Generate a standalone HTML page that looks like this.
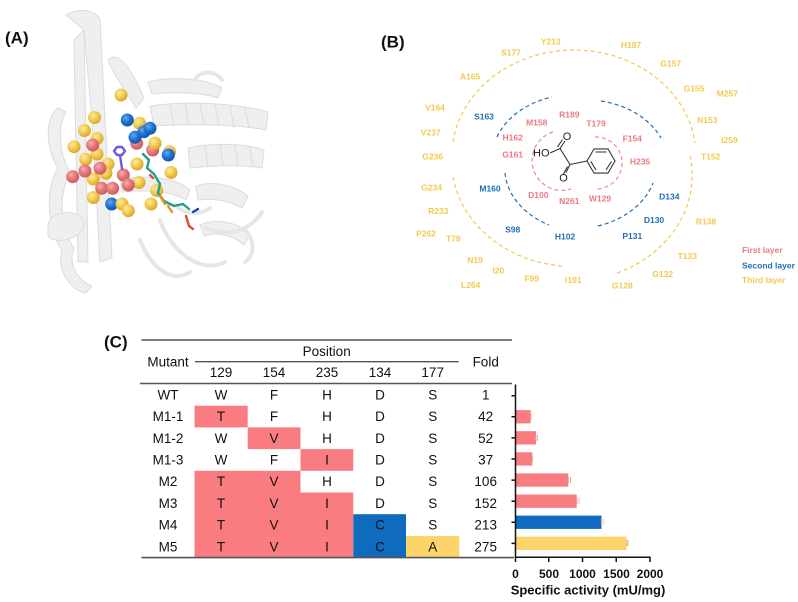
<!DOCTYPE html>
<html><head><meta charset="utf-8">
<style>
html,body{margin:0;padding:0;background:#fff;}
svg{display:block;}
text{font-family:"Liberation Sans",Arial,sans-serif;}
.lb{font-weight:bold;font-size:8.5px;text-anchor:middle;dominant-baseline:central;}
.r{fill:#ee7a80}.b{fill:#1f6db5}.y{fill:#f3c94e}
.tt{font-size:13.5px;fill:#111;text-anchor:middle;dominant-baseline:central;}
.pl{font-weight:bold;font-size:17px;fill:#111;dominant-baseline:central;}
</style></head>
<body>
<svg width="798" height="602" viewBox="0 0 798 602" xmlns="http://www.w3.org/2000/svg">
<defs>
<radialGradient id="gy" cx="0.38" cy="0.35" r="0.7"><stop offset="0" stop-color="#fbe9a8"/><stop offset="0.5" stop-color="#f3cb4c"/><stop offset="1" stop-color="#d4a22a"/></radialGradient>
<radialGradient id="gp" cx="0.38" cy="0.35" r="0.7"><stop offset="0" stop-color="#f6b0b1"/><stop offset="0.5" stop-color="#e67577"/><stop offset="1" stop-color="#c25a5d"/></radialGradient>
<radialGradient id="gb" cx="0.38" cy="0.35" r="0.7"><stop offset="0" stop-color="#6aa8ee"/><stop offset="0.5" stop-color="#1f72d4"/><stop offset="1" stop-color="#11529f"/></radialGradient>
</defs>

<!-- Panel labels -->
<text class="pl" x="5" y="38">(A)</text>
<text class="pl" x="381" y="42">(B)</text>
<text class="pl" x="104" y="342">(C)</text>

<!-- Panel A ribbon -->
<g fill="#efefef" stroke="#dcdcdc" stroke-width="1">
<path d="M66,15 C78,8 94,9 100,19 L112,258 L100,262 L92,120 L84,30 Z"/>
<path d="M84,30 L88,262 L78,262 L74,40 Z"/>
<path d="M58,108 C44,118 46,150 58,168 C44,190 48,232 62,250 C56,270 70,290 86,293 L92,286 C76,280 68,262 74,248 C60,228 58,196 70,172 C58,152 58,124 66,112 Z"/>
<path d="M48,225 C50,210 80,208 84,222 C86,238 56,246 48,236 Z"/>
<path d="M108,60 C116,52 128,60 144,98 L136,108 C124,88 112,72 108,60 Z"/>
<path d="M150,106 C190,100 240,104 268,112 L266,130 C236,124 190,124 154,126 Z"/>
<path d="M148,82 C170,76 205,78 222,88 L218,98 C200,92 172,92 152,94 Z"/>
<path d="M188,148 C215,142 248,144 264,150 L262,168 C240,164 212,166 190,168 Z"/>
<path d="M196,186 C214,180 236,186 248,196 L242,208 C228,200 212,198 198,200 Z"/>
<path d="M120,180 C140,175 175,176 190,190 L186,200 C170,190 142,190 122,192 Z"/>
<path d="M200,225 C215,218 240,222 250,235 L244,245 C232,234 215,232 204,236 Z"/>
</g>
<g fill="none" stroke="#e6e6e6" stroke-width="4" stroke-linecap="round">
<path d="M160,220 C170,250 200,275 225,262"/>
<path d="M205,228 C230,238 250,230 262,212"/>
<path d="M140,240 C150,265 170,285 190,272"/>
<path d="M195,80 C200,70 215,70 222,80"/>
<path d="M245,230 C255,240 255,255 245,262"/>
<path d="M175,205 C185,215 200,215 210,208"/>
</g>
<g fill="none" stroke="#dcdcdc" stroke-width="1">
<path d="M170,104 l4,22 M185,103 l4,22 M200,103 l4,22 M215,104 l4,22 M230,106 l4,22 M245,108 l4,20"/>
<path d="M205,146 l3,21 M220,145 l3,21 M235,145 l3,21 M250,147 l3,20"/>
</g>

<!-- spheres -->
<g stroke="none">
<g fill="url(#gy)">
<circle cx="121" cy="95" r="6.5"/><circle cx="94.5" cy="117.5" r="6.5"/><circle cx="84.5" cy="130.5" r="6.5"/>
<circle cx="97" cy="138.5" r="6.5"/><circle cx="74" cy="146.7" r="6.5"/><circle cx="97" cy="154" r="6.5"/>
<circle cx="85.7" cy="159.3" r="6.5"/><circle cx="108" cy="164" r="6.5"/><circle cx="139.5" cy="123.3" r="6.5"/>
<circle cx="155" cy="143.3" r="6.5"/><circle cx="169.5" cy="151.7" r="6.5"/><circle cx="171" cy="172.5" r="6.5"/>
<circle cx="137" cy="164" r="6.5"/><circle cx="139" cy="182.5" r="6.5"/><circle cx="106" cy="173.3" r="6.5"/>
<circle cx="93.3" cy="179" r="6.5"/><circle cx="93.3" cy="197.5" r="6.5"/>
<circle cx="151" cy="204" r="6.5"/><circle cx="156.7" cy="190.5" r="6.5"/>
</g>
<g fill="url(#gp)">
<circle cx="92.7" cy="145" r="6.5"/><circle cx="136.7" cy="143.3" r="6.5"/><circle cx="152.7" cy="150" r="6.5"/>
<circle cx="85" cy="171" r="6.5"/><circle cx="72.7" cy="176.7" r="6.5"/><circle cx="100" cy="168.3" r="6.5"/>
<circle cx="123.3" cy="175" r="6.5"/><circle cx="101.7" cy="188.3" r="6.5"/><circle cx="128.3" cy="185" r="6.5"/>
<circle cx="112.7" cy="188.3" r="6.5"/>
</g>
<g fill="url(#gb)">
<circle cx="127.3" cy="120" r="6.5"/><circle cx="135" cy="137.3" r="6.5"/><circle cx="144" cy="131.7" r="6.5"/>
<circle cx="150" cy="128.3" r="6.5"/><circle cx="168.3" cy="155" r="6.5"/><circle cx="111.7" cy="204" r="6.5"/>
</g>
<g fill="url(#gy)">
<circle cx="122" cy="204" r="6.5"/><circle cx="128.3" cy="210.7" r="6.5"/><circle cx="155" cy="143.3" r="6.5"/>
</g>
</g>
<!-- ligands -->
<g fill="none" stroke-linecap="round" stroke-linejoin="round" stroke-width="2.4">
<path d="M114,151 l3,-4 l5,0 l3,4 l-3,4 l-5,0 z M120,155 l2,14" stroke="#6b5fd6"/>
<path d="M143,154 l6,6 l-2,8 l7,6 l6,10 l-2,9 l6,8 l10,5 l9,-2 l6,5" stroke="#1fa08c"/>
<path d="M160,196 l5,8 M168,206 l4,6" stroke="#f08a2a"/>
<path d="M186,216 l3,10 l4,3 M150,175 l3,3" stroke="#e05030"/>
<path d="M193,212 l5,-3" stroke="#2040c0"/>
</g>

<!-- Panel B arcs -->
<g fill="none" stroke-width="1.2" stroke-dasharray="4,3">
<g stroke="#f2c94c">
<path d="M453,142 A122,106 0 0 1 695,143"/>
<path d="M453,177 A122,106 0 0 0 562,266"/>
<path d="M617,273 A122,106 0 0 0 690,155"/>
</g>
<g stroke="#1f6db5">
<path d="M497,137 A83,64 0 0 1 552,97"/>
<path d="M601,101 A83,64 0 0 1 661,138"/>
<path d="M505,173 A83,64 0 0 0 549,225"/>
<path d="M598,226 A83,64 0 0 0 653,183"/>
</g>
<g stroke="#ee8a90">
<path d="M553,132 A29,29 0 1 0 571,189"/>
<path d="M595,137 A26,26 0 1 1 597,189"/>
</g>
</g>
<!-- molecule -->
<g stroke="#333" stroke-width="1.1" fill="none">
<path d="M550,153 L560,148.5"/>
<path d="M560,148.5 L565,141 M557.5,147 L562.5,139.5"/>
<path d="M560,148.5 L570,164.5"/>
<path d="M570,164.5 L566,172.5 M567.5,166.5 L563.5,174"/>
<path d="M570,164.5 L587,161"/>
<path d="M615,161 L608,173.1 L594,173.1 L587,161 L594,148.9 L608,148.9 Z"/>
<path d="M595.5,152 L606.5,152 M611.5,161.5 L606,170 M596,170 L590.8,161.5"/>
</g>
<g font-size="11" fill="#222" dominant-baseline="central">
<text x="533" y="153.5">HO</text>
<text x="567" y="137" text-anchor="middle">O</text>
<text x="563.5" y="178.5" text-anchor="middle">O</text>
</g>

<!-- Panel B labels -->
<g class="lb">
<text class="y" x="550.7" y="41.7">Y213</text>
<text class="y" x="511" y="52.3">S177</text>
<text class="y" x="470" y="76.7">A165</text>
<text class="y" x="435" y="107.3">V164</text>
<text class="y" x="430.7" y="132.3">V237</text>
<text class="y" x="432.7" y="156.7">G236</text>
<text class="y" x="431.7" y="187.3">G234</text>
<text class="y" x="438.3" y="211">R233</text>
<text class="y" x="426" y="233.3">P262</text>
<text class="y" x="453.3" y="238.3">T78</text>
<text class="y" x="475" y="260">N19</text>
<text class="y" x="498.3" y="270.7">I20</text>
<text class="y" x="470.7" y="285">L264</text>
<text class="y" x="531.7" y="278.3">F99</text>
<text class="y" x="573.3" y="280">I101</text>
<text class="y" x="631" y="45">H187</text>
<text class="y" x="670.7" y="63.3">G157</text>
<text class="y" x="694" y="88.3">G155</text>
<text class="y" x="727.3" y="93.3">M257</text>
<text class="y" x="707.3" y="120">N153</text>
<text class="y" x="729.3" y="140">I259</text>
<text class="y" x="710.7" y="156.7">T152</text>
<text class="y" x="706" y="221.7">R138</text>
<text class="y" x="687.3" y="256">T133</text>
<text class="y" x="662.7" y="274">G132</text>
<text class="y" x="622.3" y="285.7">G128</text>
<text class="b" x="484" y="116.7">S163</text>
<text class="b" x="490" y="188.3">M160</text>
<text class="b" x="512.7" y="229.3">S98</text>
<text class="b" x="565" y="236.7">H102</text>
<text class="b" x="669.3" y="196.7">D134</text>
<text class="b" x="654" y="220">D130</text>
<text class="b" x="632.3" y="236">P131</text>
<text class="r" x="536.7" y="122.3">M158</text>
<text class="r" x="569.3" y="114.3">R189</text>
<text class="r" x="596" y="123.3">T179</text>
<text class="r" x="512.7" y="137.3">H162</text>
<text class="r" x="512.7" y="154.3">G161</text>
<text class="r" x="632.3" y="138.3">F154</text>
<text class="r" x="640" y="161.7">H235</text>
<text class="r" x="538.3" y="195">D100</text>
<text class="r" x="569.3" y="201">N261</text>
<text class="r" x="600" y="198.3">W129</text>
</g>
<g class="lb" style="text-anchor:start">
<text class="r" x="742" y="250">First layer</text>
<text class="b" x="742" y="265.7">Second layer</text>
<text class="y" x="742" y="280">Third layer</text>
</g>

<!-- Panel C table -->
<g>
<rect x="194.5" y="405.7" width="53.2" height="21.7" fill="#f97c81"/>
<rect x="247.7" y="427.4" width="52.8" height="21.7" fill="#f97c81"/>
<rect x="300.5" y="449.1" width="52.8" height="21.7" fill="#f97c81"/>
<rect x="194.5" y="470.8" width="106" height="21.7" fill="#f97c81"/>
<rect x="194.5" y="492.5" width="158.8" height="65" fill="#f97c81"/>
<rect x="353.3" y="514.2" width="52.7" height="43.4" fill="#0f6bbd"/>
<rect x="406" y="535.9" width="53.3" height="21.7" fill="#fcd46a"/>
</g>
<g stroke="#555" stroke-width="1.6">
<line x1="141.5" y1="340" x2="512" y2="340"/>
<line x1="195" y1="361.7" x2="458.5" y2="361.7" stroke-width="1.3"/>
<line x1="140" y1="383.5" x2="512" y2="383.5"/>
<line x1="141.5" y1="557.6" x2="514" y2="557.6"/>
</g>
<g class="tt">
<text x="326.7" y="351.7">Position</text>
<text x="168" y="362">Mutant</text>
<text x="485.7" y="362">Fold</text>
<text x="221" y="372.7">129</text><text x="274" y="372.7">154</text><text x="327" y="372.7">235</text><text x="380" y="372.7">134</text><text x="432.7" y="372.7">177</text>

<text x="168" y="395">WT</text><text x="221" y="395">W</text><text x="274" y="395">F</text><text x="327" y="395">H</text><text x="380" y="395">D</text><text x="432.7" y="395">S</text><text x="485.7" y="395">1</text>
<text x="168" y="416.6">M1-1</text><text x="221" y="416.6">T</text><text x="274" y="416.6">F</text><text x="327" y="416.6">H</text><text x="380" y="416.6">D</text><text x="432.7" y="416.6">S</text><text x="485.7" y="416.6">42</text>
<text x="168" y="438.3">M1-2</text><text x="221" y="438.3">W</text><text x="274" y="438.3">V</text><text x="327" y="438.3">H</text><text x="380" y="438.3">D</text><text x="432.7" y="438.3">S</text><text x="485.7" y="438.3">52</text>
<text x="168" y="460">M1-3</text><text x="221" y="460">W</text><text x="274" y="460">F</text><text x="327" y="460">I</text><text x="380" y="460">D</text><text x="432.7" y="460">S</text><text x="485.7" y="460">37</text>
<text x="168" y="481.7">M2</text><text x="221" y="481.7">T</text><text x="274" y="481.7">V</text><text x="327" y="481.7">H</text><text x="380" y="481.7">D</text><text x="432.7" y="481.7">S</text><text x="485.7" y="481.7">106</text>
<text x="168" y="503.4">M3</text><text x="221" y="503.4">T</text><text x="274" y="503.4">V</text><text x="327" y="503.4">I</text><text x="380" y="503.4">D</text><text x="432.7" y="503.4">S</text><text x="485.7" y="503.4">152</text>
<text x="168" y="525.1">M4</text><text x="221" y="525.1">T</text><text x="274" y="525.1">V</text><text x="327" y="525.1">I</text><text x="380" y="525.1">C</text><text x="432.7" y="525.1">S</text><text x="485.7" y="525.1">213</text>
<text x="168" y="546.8">M5</text><text x="221" y="546.8">T</text><text x="274" y="546.8">V</text><text x="327" y="546.8">I</text><text x="380" y="546.8">C</text><text x="432.7" y="546.8">A</text><text x="485.7" y="546.8">275</text>
</g>

<!-- Bar chart -->
<g>
<rect x="515.5" y="410.1" width="15.2" height="13.3" fill="#f97c81"/>
<rect x="515.5" y="431.2" width="20.5" height="13.3" fill="#f97c81"/>
<rect x="515.5" y="452.3" width="16.8" height="13.3" fill="#f97c81"/>
<rect x="515.5" y="473.4" width="52.8" height="13.3" fill="#f97c81"/>
<rect x="515.5" y="494.5" width="61.2" height="13.3" fill="#f97c81"/>
<rect x="515.5" y="515.6" width="86" height="13.3" fill="#0f6bbd"/>
<rect x="515.5" y="536.7" width="111" height="13.3" fill="#fcd46a"/>
</g>
<g stroke-width="1" fill="none">
<path d="M531,414 v6 M536,435 v6 M537.5,435 v6 M532.5,456 v6 M568.5,477 v6 M570.5,477 v6 M577,498 v6 M579,498 v6 M601.5,519 v6 M603,519 v6 M627,540 v6 M628,540 v6" stroke="#f3b0b2"/>
</g>
<g stroke="#111" stroke-width="1.5" fill="none">
<line x1="515.5" y1="384.5" x2="515.5" y2="558"/>
<line x1="515" y1="557.3" x2="650.5" y2="557.3"/>
<path d="M511.5,395.7 h4 M511.5,416.8 h4 M511.5,437.9 h4 M511.5,459 h4 M511.5,480.1 h4 M511.5,501.2 h4 M511.5,522.3 h4 M511.5,543.4 h4"/>
<path d="M515.5,557 v5 M548.75,557 v5 M582.5,557 v5 M616.25,557 v5 M650,557 v5"/>
</g>
<g font-weight="bold" font-size="12" fill="#111" text-anchor="middle" dominant-baseline="central">
<text x="515.5" y="574">0</text>
<text x="549" y="574">500</text>
<text x="582.5" y="574">1000</text>
<text x="616.5" y="574">1500</text>
<text x="650" y="574">2000</text>
</g>
<text x="588" y="590" font-weight="bold" font-size="13" fill="#111" text-anchor="middle" dominant-baseline="central">Specific activity (mU/mg)</text>
</svg>
</body></html>
